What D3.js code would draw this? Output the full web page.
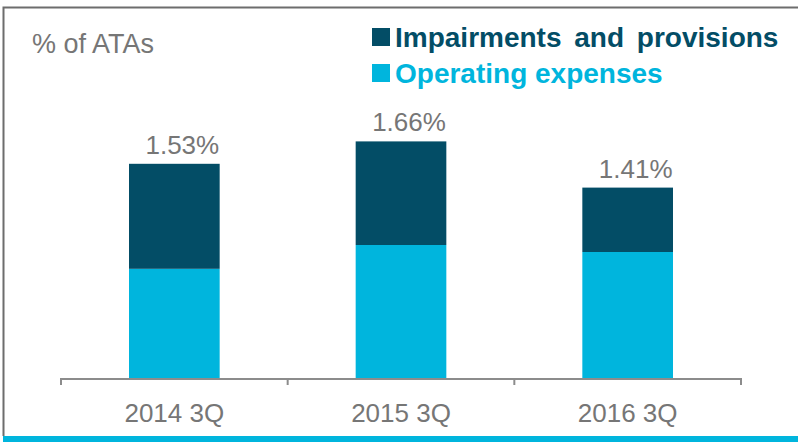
<!DOCTYPE html>
<html>
<head>
<meta charset="utf-8">
<script src="https://cdn.jsdelivr.net/npm/d3@7"></script>
<style>
  body { margin: 0; background: #fff; }
  text { font-family: "Liberation Sans", Arial, sans-serif; }
</style>
</head>
<body>
<div id="chart"></div>
<script>
// values (% of ATAs)
var quarters = ["2014 3Q", "2015 3Q", "2016 3Q"];
var opex = [0.78, 0.95, 0.90];
var impairments = [0.75, 0.74, 0.46];
var totalLabels = ["1.53%", "1.66%", "1.41%"];
var seriesNames = ["Impairments and provisions", "Operating expenses"];

var dark = "#034d66", cyan = "#00b5dd", grey = "#767676";
var w = 798, h = 442;

var svg = d3.select("#chart")
    .append("svg")
    .attr("width", w)
    .attr("height", h);

// frame
svg.append("path")
    .attr("d", "M3.5,436 L3.5,7.5 L798,7.5")
    .attr("fill", "none")
    .attr("stroke", "#6d6d6d")
    .attr("stroke-width", 2);
svg.append("rect")
    .attr("x", 3).attr("y", 436)
    .attr("width", w - 3).attr("height", 6)
    .attr("fill", cyan);

var x = d3.scaleBand()
    .domain(quarters)
    .range([61, 741])
    .paddingInner(0.6)
    .paddingOuter(0.3);
var y = d3.scaleLinear()
    .domain([0, 1.9])
    .range([378, 112]);

var data = quarters.map(function (q, i) {
    return {q: q, opex: opex[i], imp: impairments[i], label: totalLabels[i]};
});

// bars
svg.selectAll("rect.opex")
    .data(data)
    .enter().append("rect")
    .attr("class", "opex")
    .attr("x", function (d) { return x(d.q); })
    .attr("width", x.bandwidth())
    .attr("y", function (d) { return y(d.opex); })
    .attr("height", function (d) { return y(0) - y(d.opex); })
    .attr("fill", cyan);
svg.selectAll("rect.imp")
    .data(data)
    .enter().append("rect")
    .attr("class", "imp")
    .attr("x", function (d) { return x(d.q); })
    .attr("width", x.bandwidth())
    .attr("y", function (d) { return y(d.opex + d.imp); })
    .attr("height", function (d) { return y(d.opex) - y(d.opex + d.imp); })
    .attr("fill", dark);

// total labels
svg.selectAll("text.total")
    .data(data)
    .enter().append("text")
    .attr("class", "total")
    .attr("x", function (d) { return x(d.q) + x.bandwidth() / 2 + 8; })
    .attr("y", function (d) { return y(d.opex + d.imp) - 10; })
    .attr("text-anchor", "middle")
    .attr("font-size", 26)
    .attr("fill", grey)
    .text(function (d) { return d.label; });

// x axis, ticks between categories
var r = x.range(), step = x.step();
var axis = svg.append("g").attr("stroke", "#8c8c8c").attr("stroke-width", 2);
axis.append("line")
    .attr("x1", r[0]).attr("x2", r[1])
    .attr("y1", y(0) + 1).attr("y2", y(0) + 1);
axis.selectAll("line.tick")
    .data(d3.range(quarters.length + 1))
    .enter().append("line")
    .attr("class", "tick")
    .attr("x1", function (i) { return r[0] + i * step; })
    .attr("x2", function (i) { return r[0] + i * step; })
    .attr("y1", y(0)).attr("y2", y(0) + 7);

svg.selectAll("text.cat")
    .data(quarters)
    .enter().append("text")
    .attr("class", "cat")
    .attr("x", function (d) { return x(d) + x.bandwidth() / 2; })
    .attr("y", 422)
    .attr("text-anchor", "middle")
    .attr("font-size", 26)
    .attr("fill", grey)
    .text(function (d) { return d; });

// unit label
svg.append("text")
    .attr("x", 32).attr("y", 53)
    .attr("font-size", 27)
    .attr("fill", grey)
    .text("% of ATAs");

// legend
var legend = svg.selectAll("g.legend")
    .data(seriesNames)
    .enter().append("g")
    .attr("class", "legend")
    .attr("transform", function (d, i) { return "translate(372," + (28 + i * 36) + ")"; });
legend.append("rect")
    .attr("width", 18).attr("height", 18)
    .attr("fill", function (d, i) { return i == 0 ? dark : cyan; });
legend.append("text")
    .attr("x", 23).attr("y", 19)
    .attr("font-size", 28)
    .attr("font-weight", "bold")
    .attr("word-spacing", function (d, i) { return i == 0 ? 5 : 0; })
    .attr("fill", function (d, i) { return i == 0 ? dark : cyan; })
    .text(function (d) { return d; });
</script>
</body>
</html>
